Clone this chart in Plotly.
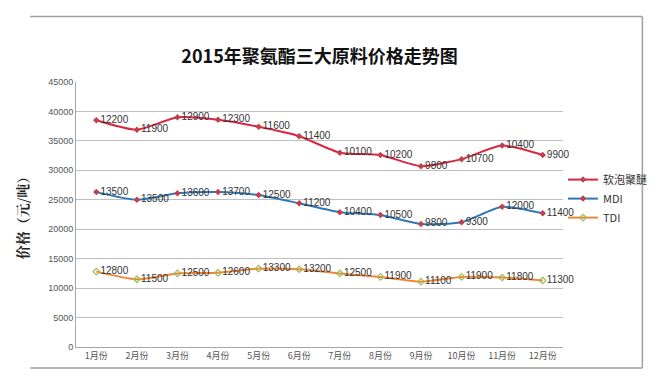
import plotly.graph_objects as go

months = ["1月份", "2月份", "3月份", "4月份", "5月份", "6月份",
          "7月份", "8月份", "9月份", "10月份", "11月份", "12月份"]
tdi = [12800, 11500, 12500, 12600, 13300, 13200, 12500, 11900, 11100, 11900, 11800, 11300]
mdi = [13500, 13500, 13600, 13700, 12500, 11200, 10400, 10500, 9800, 9300, 12000, 11400]
polyether = [12200, 11900, 12900, 12300, 11600, 11400, 10100, 10200, 9800, 10700, 10400, 9900]
y_ticks = [0, 5000, 10000, 15000, 20000, 25000, 30000, 35000, 40000, 45000]

# stacked line chart (cumulative)
mdi_stack = [a + b for a, b in zip(tdi, mdi)]
poly_stack = [a + b for a, b in zip(mdi_stack, polyether)]

label_font = dict(family="Liberation Sans, Arial", size=10, color="#333333")

fig = go.Figure()
fig.add_trace(go.Scatter(
    x=months, y=poly_stack, name="软泡聚醚", mode="lines+markers+text",
    line=dict(color="#D9263F", width=2, shape="spline", smoothing=0.6),
    marker=dict(symbol="diamond", size=5, color="#C0404D"),
    text=[str(v) for v in polyether], textposition="middle right",
    textfont=label_font, cliponaxis=False))
fig.add_trace(go.Scatter(
    x=months, y=mdi_stack, name="MDI", mode="lines+markers+text",
    line=dict(color="#2E78B8", width=2, shape="spline", smoothing=0.6),
    marker=dict(symbol="diamond", size=5, color="#C0404D"),
    text=[str(v) for v in mdi], textposition="middle right",
    textfont=label_font, cliponaxis=False))
fig.add_trace(go.Scatter(
    x=months, y=tdi, name="TDI", mode="lines+markers+text",
    line=dict(color="#EE8636", width=2, shape="spline", smoothing=0.6),
    marker=dict(symbol="diamond-open", size=5, color="#9BBB59", line=dict(width=1.2)),
    text=[str(v) for v in tdi], textposition="middle right",
    textfont=label_font, cliponaxis=False))

fig.update_layout(
    width=656, height=377,
    margin=dict(l=68, r=91, t=74, b=38),
    paper_bgcolor="white", plot_bgcolor="white",
    title=dict(text="<b>2015年聚氨酯三大原料价格走势图</b>",
               font=dict(family="Noto Sans CJK SC", size=18, color="#111111"),
               x=0.475, xanchor="center", y=0.87, yanchor="middle"),
    showlegend=True,
    legend=dict(x=1.0, xanchor="left", y=0.56, yanchor="middle",
                font=dict(family="Noto Sans CJK SC", size=11, color="#333333"),
                tracegroupgap=0, itemwidth=30, bgcolor="rgba(0,0,0,0)"),
    xaxis=dict(type="category", tickfont=dict(family="Noto Sans CJK SC", size=9, color="#555555"),
               showgrid=False, showline=True, linecolor="#A6A6A6", linewidth=1,
               ticks="", range=[-0.5, 11.5]),
    yaxis=dict(range=[0, 45000], tickvals=y_ticks, ticktext=[str(v) for v in y_ticks],
               tickfont=dict(family="Liberation Sans, Arial", size=9, color="#555555"),
               showgrid=True, gridcolor="#BFBFBF", gridwidth=1,
               showline=True, linecolor="#A6A6A6", linewidth=1, zeroline=False,
               title=dict(text="<b>价格（元/吨）</b>",
                          font=dict(family="Noto Serif CJK SC, Noto Sans CJK SC", size=14, color="#222222"),
                          standoff=16)),
)

# outer frame (top, right, bottom)
fig.add_shape(type="line", xref="paper", yref="paper", x0=-0.094, x1=1.163, y0=1.247, y1=1.247,
              line=dict(color="#A0A0A0", width=1.5))
fig.add_shape(type="line", xref="paper", yref="paper", x0=1.163, x1=1.163, y0=1.247, y1=-0.079,
              line=dict(color="#A0A0A0", width=1.5))
fig.add_shape(type="line", xref="paper", yref="paper", x0=-0.094, x1=1.163, y0=-0.079, y1=-0.079,
              line=dict(color="#A0A0A0", width=1.5))

fig.write_html("out.html")
